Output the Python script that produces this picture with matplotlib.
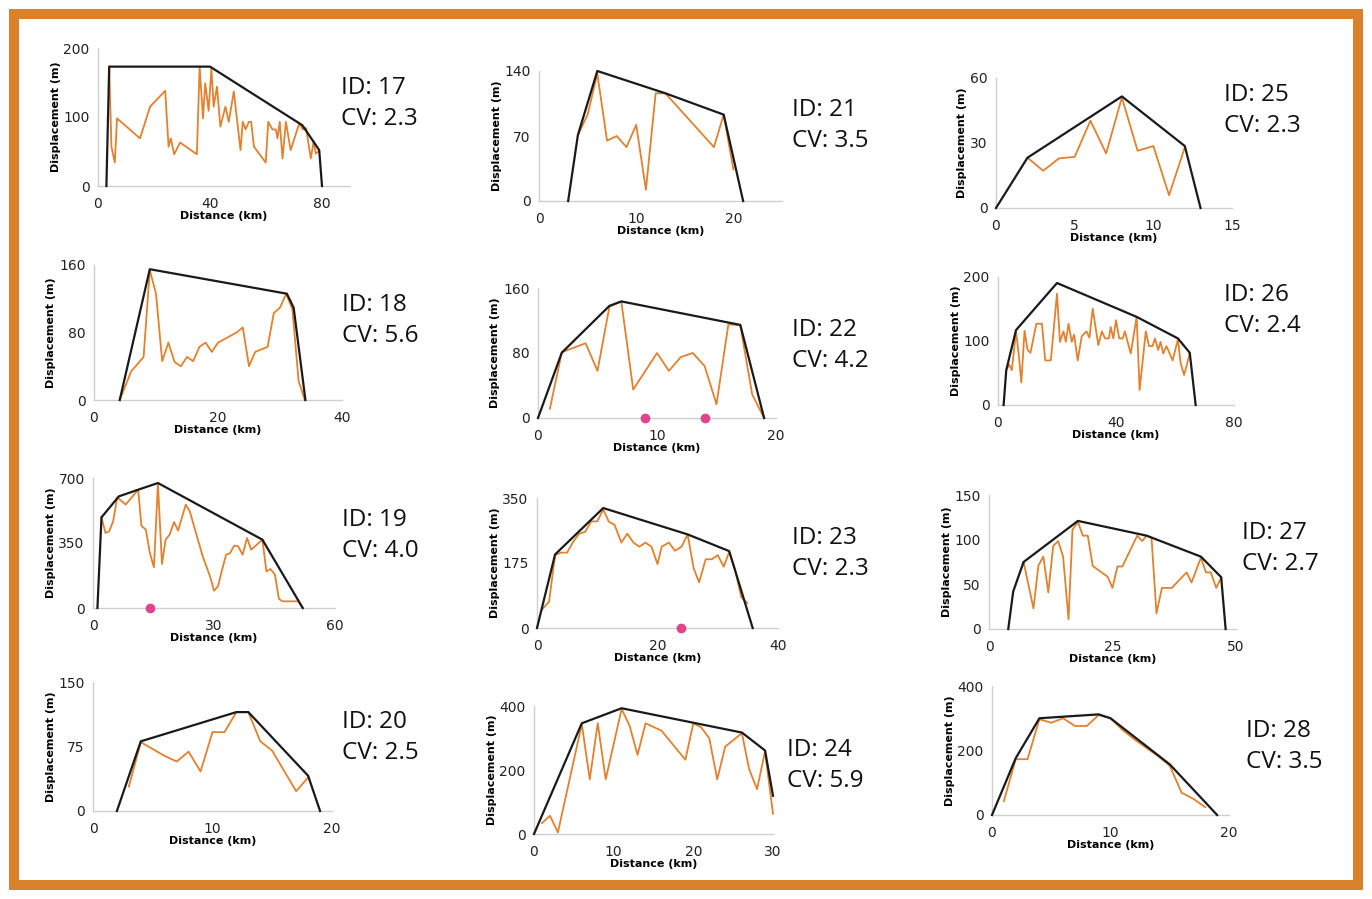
import matplotlib
matplotlib.use("Agg")
import matplotlib.pyplot as plt
from matplotlib.patches import Rectangle

W, H = 1372, 899

# fault ID and coefficient of variation for each profile
ids = [17, 21, 25, 18, 22, 26, 19, 23, 27, 20, 24, 28]
cvs = [2.3, 3.5, 2.3, 5.6, 4.2, 2.4, 4.0, 2.3, 2.7, 2.5, 5.9, 3.5]

# measured displacement profiles (orange) and envelopes (black)
d17_x = [4, 4.8, 6, 6.8, 15, 18.6, 24, 25.2, 26, 27.2, 29.3, 35.3, 36.3, 37.5, 38.3, 39.5, 40.5, 41.3,
         42.5, 43.7, 45.5, 46.7, 48.5, 50.9, 51.7, 52.7, 53.9, 54.7, 55.7, 59.9, 60.8, 62.3, 63.5, 64.1,
         64.9, 65.9, 67.1, 68.8, 71.9, 73.1, 74.3, 76, 77, 77.8, 78.7]
d17_y = [173, 57, 34, 98, 69, 115, 138, 57, 69, 46, 63, 46, 173, 98, 149, 109, 170, 115,
         144, 86, 115, 93, 137, 52, 93, 82, 93, 93, 57, 34, 93, 82, 82, 69,
         93, 40, 93, 52, 91, 82, 84, 40, 64, 47, 50]
e17_x = [3, 4, 40, 73, 79, 80]
e17_y = [0, 173, 173, 88, 52, 0]

d21_x = [4.1, 5, 6, 7, 8, 9, 10, 11, 12, 13, 18, 19, 20]
d21_y = [73, 93, 137, 65, 70, 58, 82, 12, 116, 116, 58, 93, 34]
e21_x = [3, 4, 6, 13, 19, 21]
e21_y = [0, 71, 140, 116, 93, 0]

d25_x = [2, 3, 4, 5, 6, 7, 8, 9, 10, 11, 12]
d25_y = [23.2, 17.2, 22.9, 23.6, 40.3, 25.2, 51, 26.4, 28.6, 5.9, 28]
e25_x = [0, 2, 8, 12, 13]
e25_y = [0, 23.2, 51.5, 28.6, 0]

d18_x = [4.15, 6, 8, 9, 10, 11, 12, 13, 14, 15, 16, 17, 18, 19, 20, 23, 24, 25, 26, 28, 29, 30, 31,
         32, 33, 34]
d18_y = [0, 34, 51, 154, 126, 46, 68, 45, 40, 51, 46, 63, 68, 57, 68, 80, 86, 40, 57, 63, 103, 109.5,
         126, 107.5, 22.5, 0]
e18_x = [4.15, 9, 31.1, 32.2, 34.1]
e18_y = [0, 155, 126, 109.5, 0]

d22_x = [1, 2, 4, 5, 6, 7, 8, 10, 11, 12, 13, 14, 15, 16, 17, 18, 19]
d22_y = [11.5, 81, 92, 58, 137, 143.5, 35, 80, 58, 75, 80, 64, 17, 115.5, 114, 29, 0]
e22_x = [0, 2, 6, 7, 17, 19]
e22_y = [0, 80.4, 138, 143.5, 114.6, 0]
p22_x = [9.0, 14.0]

d26_x = [2.8, 3.8, 4.7, 6.1, 7, 7.9, 9, 10, 11, 13, 14.9, 16, 17.9, 20, 21, 22.2, 23, 23.9, 25, 25.8,
         27, 28.4, 30, 31, 32.1, 34, 35.2, 36.3, 37.6, 38.2, 39.1, 40, 41.1, 42.3, 43, 45, 47, 48,
         50.1, 51.2, 52.4, 53.2, 54.3, 55.1, 56, 57.1, 59.2, 61, 61.9, 63.1, 64.7, 65]
d26_y = [54.5, 63, 54.5, 115, 80.5, 35, 116, 86.5, 81.5, 127, 127, 69.6, 69.6, 174, 98.7, 115, 98.7,
         127, 98.7, 110, 69.6, 107.5, 115, 105, 150.6, 93.5, 115, 104, 104, 122, 104, 132.5, 104,
         104, 115, 80.5, 137.7, 23.4, 115, 92, 92, 104, 86, 98.7, 80.5, 92, 69.6, 103, 65.5, 46.8,
         75.3, 81.6]
e26_x = [1.9, 2.8, 6.1, 20, 47, 61, 65, 67]
e26_y = [0, 54.5, 117, 190.6, 137.7, 104, 81.6, 0]

d19_x = [2.1, 3.1, 4, 5, 6, 8.1, 11.2, 12, 13.1, 14.1, 15.1, 16.1, 17.1, 18, 19, 20.1, 21.1, 23, 24,
         25.3, 27.2, 29, 30, 31, 32, 33, 34, 35, 36, 37.1, 38.2, 39.2, 42, 43, 44, 45.1, 46.1, 47,
         50.9, 52]
d19_y = [488, 404, 413, 467, 596, 557, 637, 443, 422, 296, 219, 668, 237, 368, 395, 463, 417, 557,
         521, 422, 278, 171, 93, 117, 206, 287, 296, 336, 332, 287, 377, 314, 368, 197, 210, 180,
         48.5, 36, 36, 0]
e19_x = [1.1, 2.1, 6.4, 11.2, 16.1, 42, 52]
e19_y = [0, 488, 601, 637, 673, 368, 0]
p19_x = [14.2]

d23_x = [0.8, 2, 3, 4, 5, 6, 7, 8, 9, 10, 11, 11.9, 12.9, 14, 15, 16, 17, 18, 19, 20, 20.7, 21.9,
         22.9, 24, 25, 26, 26.9, 28, 29, 30, 31, 31.9, 32.9, 33.9, 34.9]
d23_y = [49, 71, 196, 203, 203, 232, 254, 259, 287, 287, 319, 287, 277, 230, 254, 230, 219, 230,
         219, 172, 219, 230, 208, 219, 252, 161, 123, 185, 185, 196, 165, 205, 156, 83, 67]
e23_x = [0, 3, 11, 25, 31.9, 35.8]
e23_y = [0, 198, 323, 252, 207, 0]
p23_x = [23.9]

d27_x = [7, 9, 10, 11, 12, 13, 14, 15, 16.1, 16.9, 18, 19, 20, 21, 24, 25, 26, 27, 30, 31, 31.9,
         32.9, 33.9, 35, 37, 40, 41, 42.9, 43.9, 44.9, 46, 47]
d27_y = [75, 23, 71, 81, 41, 93, 98.5, 81, 11, 111, 120, 104.5, 104.5, 70.5, 58.6, 46, 70, 70,
         104.5, 98.5, 104.5, 102, 17.5, 46, 46, 63.4, 52, 80, 63.4, 63.4, 46, 57.5]
e27_x = [3.9, 4.9, 7, 18, 31.9, 42.9, 47, 47.9]
e27_y = [0, 42, 75, 121, 104.5, 81, 58, 0]

d20_x = [3, 4, 6, 7, 8, 9, 10, 11, 12, 13, 14, 15, 17, 18]
d20_y = [28.4, 80, 64, 57.5, 69, 46, 91.7, 91.7, 115, 115, 81, 70, 23, 39]
e20_x = [2, 4, 12, 13, 18, 19]
e20_y = [0, 81, 115, 115, 41, 0]

d24_x = [1, 2, 3, 6, 7, 8, 9, 11, 12, 13, 14, 16, 19, 20, 21, 22, 23, 24, 26.1, 27, 28, 29, 30]
d24_y = [34, 57, 5, 343, 171, 346, 171, 391, 338, 247, 346, 323, 232, 346, 333, 299, 171, 273,
         315, 203, 140, 258, 63]
e24_x = [0, 6, 11, 26.1, 29, 30]
e24_y = [0, 346, 393, 317, 261, 119.5]

d28_x = [1, 2, 3, 4, 5, 6, 7, 8, 9, 10, 11, 12, 13, 14, 15, 16, 17, 18]
d28_y = [43, 173, 173, 297, 286, 300, 276, 276, 310, 300, 264, 235, 209, 183, 153, 69, 50, 24]
e28_x = [0, 2, 4, 9, 10, 15, 19]
e28_y = [0, 176, 300, 312, 300, 157, 0]

# axis ranges and ticks
xmax = [90, 25, 15, 40, 20, 80, 60, 40, 50, 20, 30, 20]
ymax = [200, 140, 60, 160, 160, 200, 700, 350, 150, 150, 400, 400]
xticks = [[0, 40, 80], [0, 10, 20], [0, 5, 10, 15], [0, 20, 40], [0, 10, 20], [0, 40, 80],
          [0, 30, 60], [0, 20, 40], [0, 25, 50], [0, 10, 20], [0, 10, 20, 30], [0, 10, 20]]
yticks = [[0, 100, 200], [0, 70, 140], [0, 30, 60], [0, 80, 160], [0, 80, 160], [0, 100, 200],
          [0, 350, 700], [0, 175, 350], [0, 50, 100, 150], [0, 75, 150], [0, 200, 400], [0, 200, 400]]

profiles = [(d17_x, d17_y, e17_x, e17_y, []), (d21_x, d21_y, e21_x, e21_y, []),
            (d25_x, d25_y, e25_x, e25_y, []), (d18_x, d18_y, e18_x, e18_y, []),
            (d22_x, d22_y, e22_x, e22_y, p22_x), (d26_x, d26_y, e26_x, e26_y, []),
            (d19_x, d19_y, e19_x, e19_y, p19_x), (d23_x, d23_y, e23_x, e23_y, p23_x),
            (d27_x, d27_y, e27_x, e27_y, []), (d20_x, d20_y, e20_x, e20_y, []),
            (d24_x, d24_y, e24_x, e24_y, []), (d28_x, d28_y, e28_x, e28_y, [])]

# panel boxes in pixels: left, right, y of zero, y of top
boxes = [(98, 350, 186, 48), (539, 782, 201, 71), (996, 1232, 208, 78),
         (94, 342, 400, 265), (538, 776, 418, 288), (998, 1234, 405, 277),
         (93, 335, 608, 478), (537, 778, 628, 498), (989, 1236, 629, 495),
         (93, 332, 811, 682), (534, 773, 834, 706), (992, 1229, 815, 686)]
# ID / CV text anchors in pixels: left, y of ID line
labels = [(341, 88), (792, 110), (1224, 95), (342, 305), (792, 330), (1224, 295),
          (342, 520), (792, 538), (1242, 533), (342, 722), (787, 750), (1246, 731)]

orange = '#E2812F'

fig = plt.figure(figsize=(W / 100, H / 100), dpi=100)
fig.patches.append(Rectangle((14 / W, 14 / H), 1 - 28 / W, 1 - 28 / H, transform=fig.transFigure,
                             fill=False, edgecolor='#D9822B', linewidth=7.2))

for i in range(12):
    l, r, y0, yt = boxes[i]
    ax = fig.add_axes([l / W, 1 - y0 / H, (r - l) / W, (y0 - yt) / H])
    dx, dy, ex, ey, px = profiles[i]
    ax.plot(dx, dy, color=orange, lw=1.3, clip_on=False, zorder=3)
    ax.plot(ex, ey, color='#1a1a1a', lw=1.6, clip_on=False, zorder=4)
    if px:
        ax.plot(px, [0] * len(px), 'o', color='#E0448A', ms=6, clip_on=False, zorder=5)
    ax.set_xlim(0, xmax[i])
    ax.set_ylim(0, ymax[i])
    ax.set_xticks(xticks[i])
    ax.set_yticks(yticks[i])
    for s in ['top', 'right']:
        ax.spines[s].set_visible(False)
    for s in ['left', 'bottom']:
        ax.spines[s].set_color('#cfcfcf')
        ax.spines[s].set_linewidth(1.0)
    ax.tick_params(length=0, labelsize=10, labelcolor='#222222')
    ax.tick_params(axis='x', pad=8)
    ax.tick_params(axis='y', pad=6)
    ax.set_xlabel('Distance (km)', fontweight='bold', fontsize=8, labelpad=0)
    ax.set_ylabel('Displacement (m)', fontweight='bold', fontsize=8, labelpad=2)
    ax.patch.set_alpha(0)

    tx, ty = labels[i]
    fig.text(tx / W, 1 - ty / H, 'ID: %d' % ids[i], fontsize=17.5, family='Open Sans',
             va='center', ha='left', color='#111111')
    fig.text(tx / W, 1 - (ty + 31) / H, 'CV: %.1f' % cvs[i], fontsize=17.5, family='Open Sans',
             va='center', ha='left', color='#111111')

fig.savefig('out.png', dpi=100)
